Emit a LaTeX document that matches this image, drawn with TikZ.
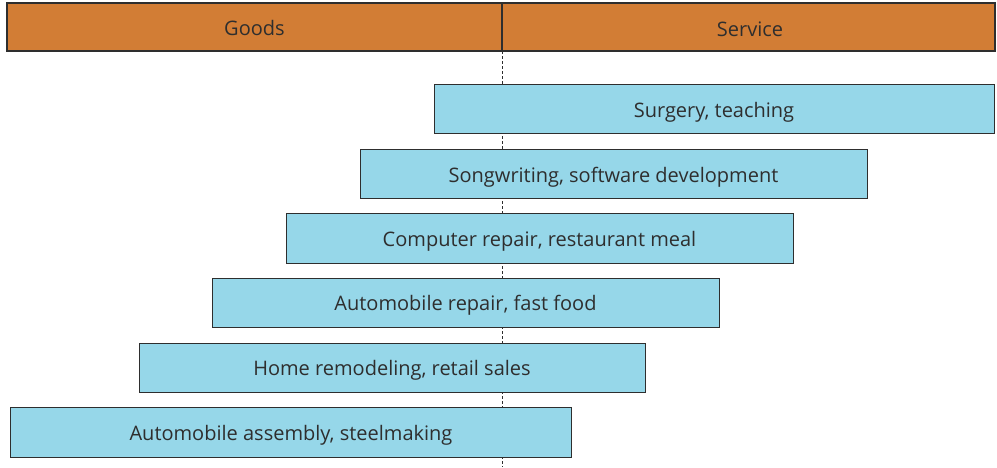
\documentclass[tikz,border=0pt]{standalone}
\usepackage{fontspec}
\setmainfont{Open Sans}
\definecolor{barorange}{HTML}{D27D35}
\definecolor{boxblue}{HTML}{96D7E9}
\definecolor{txt}{HTML}{2E2E2E}
\begin{document}
\begin{tikzpicture}[x=1pt,y=-1pt,
  head/.style={draw=txt,fill=barorange,line width=1.2pt},
  item/.style={draw=txt,fill=boxblue,line width=1pt},
  lbl/.style={text=txt,inner sep=0pt,font=\fontsize{20}{24}\selectfont}]
\useasboundingbox (0,0) rectangle (997,467);
\draw[txt,line width=0.8pt,dash pattern=on 3pt off 2pt] (502,51) -- (502,467);
\draw[head] (7,3) rectangle (502,51);
\draw[head] (502,3) rectangle (995,51);
\node[lbl] (goods) at (254.5,27.5) {Goods};
\node[lbl] (service) at (750,29.5) {Service};
\draw[item] (434,84) rectangle (994,133);
\node[lbl] (b1) at (714,112.5) {Surgery, teaching};
\draw[item] (360,149) rectangle (867,198);
\node[lbl] (b2) at (613.5,177.5) {Songwriting, software development};
\draw[item] (286,213) rectangle (793,263);
\node[lbl] (b3) at (539.5,241.5) {Computer repair, restaurant meal};
\draw[item] (212,278) rectangle (719,327);
\node[lbl] (b4) at (465.5,305.5) {Automobile repair, fast food};
\draw[item] (139,343) rectangle (645,392);
\node[lbl] (b5) at (392,370.5) {Home remodeling, retail sales};
\draw[item] (10,407) rectangle (571,457);
\node[lbl] (b6) at (291,435.5) {Automobile assembly, steelmaking};
\end{tikzpicture}
\end{document}
